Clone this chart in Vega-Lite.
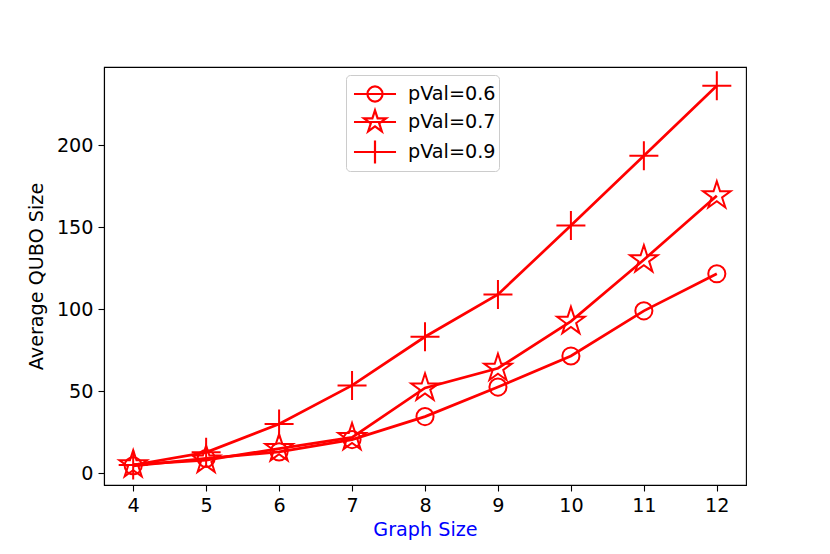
{
  "$schema": "https://vega.github.io/schema/vega-lite/v6.json",
  "width": 642,
  "height": 418,
  "autosize": {"type": "none"},
  "padding": {"left": 104, "top": 67, "right": 84, "bottom": 69},
  "background": "white",
  "data": {
    "values": [
      {"n": 4, "q": 4.5, "s": "pVal=0.6"},
      {"n": 5, "q": 9, "s": "pVal=0.6"},
      {"n": 6, "q": 13, "s": "pVal=0.6"},
      {"n": 7, "q": 20.5, "s": "pVal=0.6"},
      {"n": 8, "q": 34.5, "s": "pVal=0.6"},
      {"n": 9, "q": 52.5, "s": "pVal=0.6"},
      {"n": 10, "q": 71.5, "s": "pVal=0.6"},
      {"n": 11, "q": 99, "s": "pVal=0.6"},
      {"n": 12, "q": 121.6, "s": "pVal=0.6"},
      {"n": 4, "q": 5.2, "s": "pVal=0.7"},
      {"n": 5, "q": 8, "s": "pVal=0.7"},
      {"n": 6, "q": 15, "s": "pVal=0.7"},
      {"n": 7, "q": 21.8, "s": "pVal=0.7"},
      {"n": 8, "q": 52, "s": "pVal=0.7"},
      {"n": 9, "q": 64, "s": "pVal=0.7"},
      {"n": 10, "q": 92.6, "s": "pVal=0.7"},
      {"n": 11, "q": 130.2, "s": "pVal=0.7"},
      {"n": 12, "q": 169.2, "s": "pVal=0.7"},
      {"n": 4, "q": 5, "s": "pVal=0.9"},
      {"n": 5, "q": 12.7, "s": "pVal=0.9"},
      {"n": 6, "q": 30, "s": "pVal=0.9"},
      {"n": 7, "q": 53.5, "s": "pVal=0.9"},
      {"n": 8, "q": 83.2, "s": "pVal=0.9"},
      {"n": 9, "q": 109, "s": "pVal=0.9"},
      {"n": 10, "q": 151, "s": "pVal=0.9"},
      {"n": 11, "q": 193.6, "s": "pVal=0.9"},
      {"n": 12, "q": 236.3, "s": "pVal=0.9"}
    ]
  },
  "encoding": {
    "x": {
      "field": "n", "type": "quantitative", "title": "Graph Size",
      "scale": {"domain": [3.6, 12.4], "nice": false, "zero": false},
      "axis": {"values": [4, 5, 6, 7, 8, 9, 10, 11, 12], "titleColor": "#0000ff", "titlePadding": 5}
    },
    "y": {
      "field": "q", "type": "quantitative", "title": "Average QUBO Size",
      "scale": {"domain": [-7.2, 247.7], "nice": false, "zero": false},
      "axis": {"values": [0, 50, 100, 150, 200], "titlePadding": 10}
    }
  },
  "layer": [
    {
      "mark": {"type": "line", "color": "#ff0000", "strokeWidth": 2.7},
      "encoding": {"detail": {"field": "s"}}
    },
    {
      "mark": {"type": "point", "filled": false, "color": "#ff0000", "strokeWidth": 2, "size": 841, "opacity": 1},
      "encoding": {
        "shape": {
          "field": "s", "type": "nominal",
          "scale": {
            "domain": ["pVal=0.6", "pVal=0.7", "pVal=0.9"],
            "range": [
              "M0.59,0A0.59,0.59 0 1,1 -0.59,0A0.59,0.59 0 1,1 0.59,0Z",
              "M0,-1L0.2245,-0.309L0.9511,-0.309L0.3633,0.118L0.5878,0.809L0,0.382L-0.5878,0.809L-0.3633,0.118L-0.9511,-0.309L-0.2245,-0.309Z",
              "M-1,0L1,0M0,-1L0,1"
            ]
          },
          "legend": null
        }
      }
    },
    {
      "transform": [{"filter": "datum.n < 0"}],
      "mark": {"type": "point", "filled": false, "color": "#ff0000", "strokeWidth": 2.2, "size": 841, "opacity": 1},
      "encoding": {
        "shape": {
          "field": "s", "type": "nominal",
          "scale": {
            "domain": ["pVal=0.6", "pVal=0.7", "pVal=0.9"],
            "range": [
              "M-1.45,0L1.45,0M0.52,0A0.52,0.52 0 1,1 -0.52,0A0.52,0.52 0 1,1 0.52,0Z",
              "M-1.45,0L1.45,0M0,-0.8L0.18,-0.247L0.761,-0.247L0.291,0.094L0.47,0.647L0,0.306L-0.47,0.647L-0.291,0.094L-0.761,-0.247L-0.18,-0.247Z",
              "M-1.45,0L1.45,0M0,-0.8L0,0.8"
            ]
          },
          "legend": {
            "title": null,
            "orient": "none",
            "legendX": 242,
            "legendY": 8,
            "padding": 3,
            "symbolOffset": 10,
            "labelOffset": 17,
            "rowPadding": -4,
            "symbolSize": 841,
            "symbolStrokeWidth": 2.2,
            "symbolStrokeColor": "#ff0000",
            "symbolFillColor": "transparent",
            "symbolOpacity": 1
          }
        }
      }
    }
  ],
  "resolve": {"scale": {"shape": "independent"}},
  "config": {
    "view": {"stroke": "#000000", "strokeWidth": 1.1},
    "font": "DejaVu Sans",
    "axis": {
      "grid": false,
      "domainColor": "#000000",
      "domainWidth": 1.1,
      "tickColor": "#000000",
      "tickWidth": 1.1,
      "tickSize": 6,
      "labelFont": "DejaVu Sans",
      "labelFontSize": 19.2,
      "labelColor": "#000000",
      "labelPadding": 5,
      "titleFont": "DejaVu Sans",
      "titleFontSize": 19.2,
      "titleFontWeight": "normal",
      "titleColor": "#000000"
    },
    "legend": {
      "labelFont": "DejaVu Sans",
      "labelFontSize": 19.2,
      "labelColor": "#000000",
      "strokeColor": "#cccccc",
      "fillColor": "rgba(255,255,255,0.8)",
      "cornerRadius": 4
    }
  }
}
